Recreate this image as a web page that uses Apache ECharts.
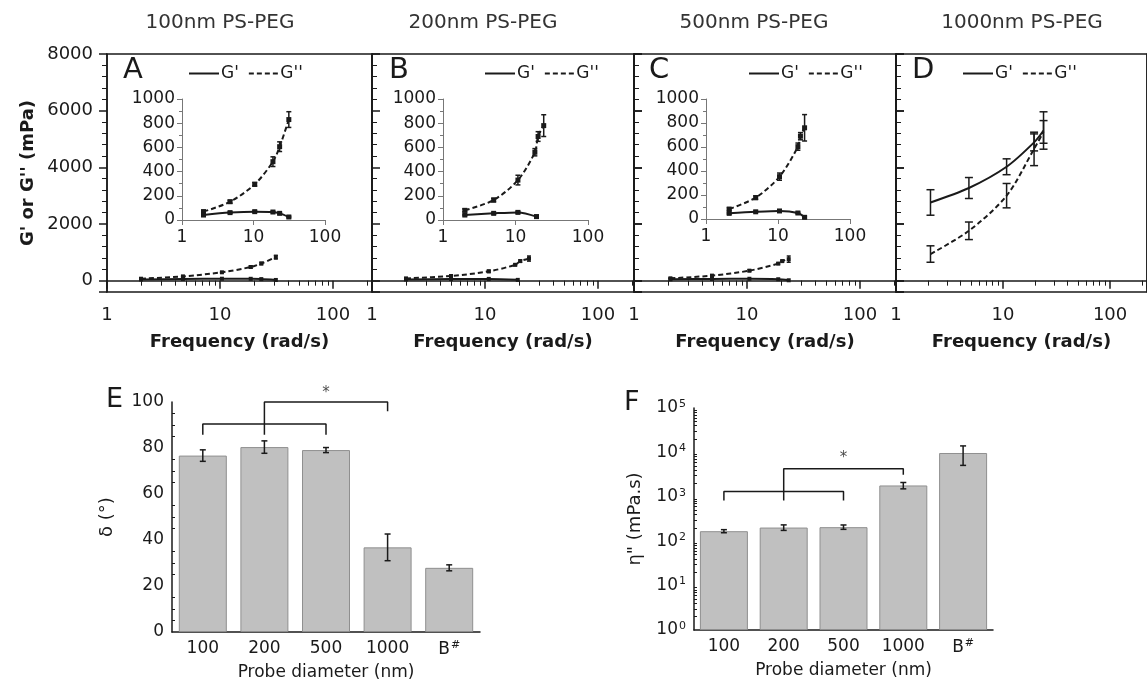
<!DOCTYPE html>
<html>
<head>
<meta charset="utf-8">
<script src="https://cdn.jsdelivr.net/npm/echarts@6/dist/echarts.min.js"></script>
<style>
  html, body { margin: 0; padding: 0; background: #fff; }
  #main { width: 1147px; height: 685px; }
</style>
</head>
<body>
<div id="main"></div>
<script>
// G' / G'' (mPa) against frequency (rad/s), one block per probe size
var freqA = [2, 4.7, 10.4, 18.7, 23.2, 31.2];
var gpA = [41, 61, 69, 66, 55, 25];
var gpErrA = [8, 6, 6, 6, 6, 6];
var gppA = [69, 151, 295, 482, 606, 830];
var gppErrA = [12, 12, 15, 40, 40, 65];

var freqGpB = [2, 5, 10.8, 19.5];
var gpB = [41, 55, 63, 28];
var gpErrB = [6, 6, 8, 12];
var freqGppB = [2, 5, 10.8, 18.5, 20.5, 24.5];
var gppB = [80, 165, 330, 560, 690, 780];
var gppErrB = [12, 15, 40, 30, 40, 90];

var freqGpC = [2.1, 4.9, 10.5, 18.9, 23.4];
var gpC = [47, 60, 67, 50, 14];
var gpErrC = [6, 5, 5, 6, 8];
var freqGppC = [2.1, 4.9, 10.5, 18.9, 20.5, 23.4];
var gppC = [83, 178, 353, 603, 690, 760];
var gppErrC = [10, 15, 30, 30, 30, 110];

var freqD = [2.1, 4.8, 10.8, 19.5, 23.9];
var gpD = [2760, 3270, 4020, 4880, 5300];
var gpErrD = [450, 370, 280, 300, 660];
var gppD = [940, 1760, 3000, 4650, 5250];
var gppErrD = [290, 310, 430, 590, 400];

// bar panels
var probeCats = ['100', '200', '500', '1000', 'B#'];
var deltaVals = [76.7, 80.4, 79.1, 36.8, 27.9];
var deltaErr = [2.5, 2.7, 1.1, 5.8, 1.3];
var etaVals = [168, 203, 207, 1800, 9700];
var etaLow = [155, 175, 185, 1510, 5100];
var etaHigh = [182, 233, 232, 2100, 14000];

// significance brackets [category index, value]
var bracketLowE = [[0, 85.8], [0, 90.4], [2, 90.4], [2, 85.8]];
var bracketHighE = [[1, 85.8], [1, 100], [3, 100], [3, 96]];
var starE = [[2, 104]];
var bracketLowF = [[0, 826], [0, 1320], [2, 1320], [2, 826]];
var bracketHighF = [[1, 826], [1, 4270], [3, 4270], [3, 3135]];
var starF = [[2, 7460]];

var FONT = 'DejaVu Sans';
var INK = '#1a1a1a';
var DECADE = 113;

var chart = echarts.init(document.getElementById('main'));

function plain(v) { return String(v); }

function errBars(xi, yi, xs, lows, highs, cap) {
  return {
    type: 'custom', xAxisIndex: xi, yAxisIndex: yi, silent: true, z: 4, clip: false,
    encode: { x: 0, y: [1, 2] },
    data: xs.map(function (x, i) { return [x, lows[i], highs[i]]; }),
    renderItem: function (params, api) {
      var lo = api.coord([api.value(0), api.value(1)]);
      var hi = api.coord([api.value(0), api.value(2)]);
      var st = { stroke: INK, lineWidth: 1.5 };
      return {
        type: 'group', children: [
          { type: 'line', shape: { x1: lo[0], y1: lo[1], x2: hi[0], y2: hi[1] }, style: st },
          { type: 'line', shape: { x1: lo[0] - cap, y1: lo[1], x2: lo[0] + cap, y2: lo[1] }, style: st },
          { type: 'line', shape: { x1: hi[0] - cap, y1: hi[1], x2: hi[0] + cap, y2: hi[1] }, style: st }
        ]
      };
    }
  };
}

function pmErr(xi, yi, xs, ys, es, cap) {
  return errBars(xi, yi, xs,
    ys.map(function (v, i) { return v - es[i]; }),
    ys.map(function (v, i) { return v + es[i]; }), cap);
}

function curve(name, xi, yi, xs, ys, dashed, sym) {
  return {
    name: name, type: 'line', xAxisIndex: xi, yAxisIndex: yi,
    data: xs.map(function (x, i) { return [x, ys[i]]; }),
    smooth: 0.3, symbol: sym ? 'rect' : 'none', symbolSize: sym || 0,
    color: INK, itemStyle: { color: INK },
    lineStyle: { color: INK, width: 2, type: dashed ? [5, 3] : 'solid' },
    silent: true, z: 3
  };
}

// ---------- grids ----------
var mainGrids = [
  { left: 107, width: 265 },
  { left: 372, width: 262 },
  { left: 634, width: 262 },
  { left: 896, width: 265 }
];
var grids = mainGrids.map(function (g) {
  return { left: g.left, width: g.width, top: 54, height: 238, show: true,
    borderColor: INK, borderWidth: 1.5 };
});
grids.push({ left: 182, top: 99, width: 143, height: 121 });
grids.push({ left: 443, top: 99, width: 145, height: 121 });
grids.push({ left: 706, top: 99, width: 144, height: 120 });
grids.push({ left: 172, top: 402, width: 308, height: 230 });
grids.push({ left: 694, top: 408, width: 299, height: 222 });

var numLabel = { fontFamily: FONT, fontSize: 17, color: INK };

function catFmt(v) { return v === 'B#' ? 'B{sup|#}' : v; }
function supRich() {
  return { sup: { fontFamily: FONT, fontSize: 11, color: INK, verticalAlign: 'top', padding: [0, 0, 8, 1] } };
}

var xAxes = [];
mainGrids.forEach(function (g, i) {
  xAxes.push({
    type: 'log', gridIndex: i, min: 1, max: Math.pow(10, g.width / DECADE),
    axisLine: { lineStyle: { color: INK, width: 1.5 } },
    axisTick: { inside: false, length: 8, lineStyle: { color: INK, width: 1.5 } },
    minorTick: { show: true, splitNumber: 9, length: 5, lineStyle: { color: INK } },
    splitLine: { show: false },
    axisLabel: { margin: 14, fontSize: 18, showMaxLabel: false, fontFamily: FONT, color: INK, formatter: plain },
    name: 'Frequency (rad/s)', nameLocation: 'middle', nameGap: 41,
    nameTextStyle: { fontFamily: FONT, fontWeight: 'bold', fontSize: 18, color: INK }
  });
});
[4, 5, 6].forEach(function (gi) {
  xAxes.push({
    type: 'log', gridIndex: gi, min: 1, max: 100,
    axisLine: { lineStyle: { color: '#777', width: 1 } },
    axisTick: { inside: false, length: 5, lineStyle: { color: '#777' } },
    splitLine: { show: false },
    axisLabel: Object.assign({ margin: 9, formatter: plain }, numLabel)
  });
});
[7, 8].forEach(function (gi) {
  xAxes.push({
    type: 'category', gridIndex: gi, data: probeCats,
    axisLine: { lineStyle: { color: INK, width: 1.5 } },
    axisTick: { inside: true, length: 5, lineStyle: { color: INK } },
    axisLabel: Object.assign({ margin: 8, interval: 0, formatter: catFmt, rich: supRich() }, numLabel),
    name: 'Probe diameter (nm)', nameLocation: 'middle', nameGap: 32,
    nameTextStyle: { fontFamily: FONT, fontSize: 17, color: INK }
  });
});

function mainY(gi, inside, withLabels) {
  var ax = {
    type: 'value', gridIndex: gi, min: -400, max: 8000, splitNumber: 4,
    axisLine: { show: true, lineStyle: { color: INK, width: 1.5 } },
    axisTick: { inside: inside, length: 8, lineStyle: { color: INK, width: 1.5 } },
    minorTick: { show: true, splitNumber: 5, length: 5, lineStyle: { color: INK } },
    splitLine: { show: false },
    axisLabel: { show: withLabels, showMinLabel: false, margin: 14, fontFamily: FONT, fontSize: 18,
      color: INK, formatter: plain }
  };
  if (withLabels) {
    ax.name = "G' or G'' (mPa)";
    ax.nameLocation = 'middle';
    ax.nameGap = 70;
    ax.nameTextStyle = { fontFamily: FONT, fontWeight: 'bold', fontSize: 18, color: INK };
  }
  return ax;
}

var yAxes = [
  mainY(0, false, true),              // 0 A
  mainY(1, true, false), mainY(1, false, false), // 1,2 B
  mainY(2, true, false), mainY(2, false, false), // 3,4 C
  mainY(3, true, false), mainY(3, false, false)  // 5,6 D
];
[4, 5, 6].forEach(function (gi) {
  yAxes.push({
    type: 'value', gridIndex: gi, min: 0, max: 1000, interval: 200,
    axisLine: { show: true, lineStyle: { color: '#777', width: 1 } },
    axisTick: { inside: false, length: 5, lineStyle: { color: '#777' } },
    minorTick: { show: true, splitNumber: 2, length: 3, lineStyle: { color: '#777' } },
    splitLine: { show: false },
    axisLabel: Object.assign({ margin: 7, formatter: plain }, numLabel)
  });
}); // 7,8,9
yAxes.push({
  type: 'value', gridIndex: 7, min: 0, max: 100, interval: 20,
  axisLine: { show: true, lineStyle: { color: INK, width: 1.5 } },
  axisTick: { inside: true, length: 6, lineStyle: { color: INK } },
  minorTick: { show: true, splitNumber: 4, length: 3, lineStyle: { color: INK } },
  splitLine: { show: false },
  axisLabel: Object.assign({ margin: 8 }, numLabel),
  name: 'δ (°)', nameLocation: 'middle', nameGap: 56,
  nameTextStyle: { fontFamily: FONT, fontSize: 18, color: INK }
}); // 10
yAxes.push({
  type: 'log', gridIndex: 8, min: 1, max: 100000, logBase: 10,
  axisLine: { show: true, lineStyle: { color: INK, width: 1.5 } },
  axisTick: { inside: true, length: 6, lineStyle: { color: INK } },
  minorTick: { show: true, splitNumber: 9, length: 3, lineStyle: { color: INK } },
  splitLine: { show: false },
  axisLabel: Object.assign({
    margin: 8,
    formatter: function (v) { return '10{sup|' + Math.round(Math.log10(v)) + '}'; },
    rich: supRich()
  }, numLabel),
  name: 'η" (mPa.s)', nameLocation: 'middle', nameGap: 50,
  nameTextStyle: { fontFamily: FONT, fontSize: 18, color: INK }
}); // 11

// ---------- series ----------
var series = [];
// main panels (0-8000 scale) and their insets (0-1000)
var blocks = [
  { xi: 0, yi: 0, ix: 4, iy: 7, fgp: freqA, gp: gpA, egp: gpErrA, fgpp: freqA, gpp: gppA, egpp: gppErrA },
  { xi: 1, yi: 1, ix: 5, iy: 8, fgp: freqGpB, gp: gpB, egp: gpErrB, fgpp: freqGppB, gpp: gppB, egpp: gppErrB },
  { xi: 2, yi: 3, ix: 6, iy: 9, fgp: freqGpC, gp: gpC, egp: gpErrC, fgpp: freqGppC, gpp: gppC, egpp: gppErrC }
];
blocks.forEach(function (b) {
  series.push(curve("G'", b.xi, b.yi, b.fgp, b.gp, false, 4));
  series.push(curve("G''", b.xi, b.yi, b.fgpp, b.gpp, true, 4));
  series.push(pmErr(b.xi, b.yi, b.fgpp, b.gpp, b.egpp, 2));
  series.push(curve("G'", b.ix, b.iy, b.fgp, b.gp, false, 5));
  series.push(curve("G''", b.ix, b.iy, b.fgpp, b.gpp, true, 5));
  series.push(pmErr(b.ix, b.iy, b.fgp, b.gp, b.egp, 2.5));
  series.push(pmErr(b.ix, b.iy, b.fgpp, b.gpp, b.egpp, 2.5));
});
series.push(curve("G'", 3, 5, freqD, gpD, false, 0));
series.push(curve("G''", 3, 5, freqD, gppD, true, 0));
series.push(pmErr(3, 5, freqD, gpD, gpErrD, 4));
series.push(pmErr(3, 5, freqD, gppD, gppErrD, 4));

function barSeries(xi, yi, vals) {
  return {
    type: 'bar', xAxisIndex: xi, yAxisIndex: yi, data: vals, barWidth: 48, silent: true,
    itemStyle: { color: '#c0c0c0', borderColor: '#8f8f8f', borderWidth: 1 }
  };
}
function bracket(xi, yi, pts) {
  return {
    type: 'line', xAxisIndex: xi, yAxisIndex: yi, data: pts, symbol: 'none', clip: false,
    silent: true, z: 6, lineStyle: { color: INK, width: 1.5 }
  };
}
function star(xi, yi, pts) {
  return {
    type: 'scatter', xAxisIndex: xi, yAxisIndex: yi, data: pts, clip: false, silent: true,
    symbolSize: 1, itemStyle: { color: 'rgba(0,0,0,0)' },
    label: { show: true, formatter: '*', position: 'inside', fontFamily: FONT, fontSize: 15, color: INK }
  };
}
series.push(barSeries(7, 10, deltaVals));
series.push(pmErr(7, 10, [0, 1, 2, 3, 4], deltaVals, deltaErr, 3));
series.push(bracket(7, 10, bracketLowE));
series.push(bracket(7, 10, bracketHighE));
series.push(star(7, 10, starE));
series.push(barSeries(8, 11, etaVals));
series.push(errBars(8, 11, [0, 1, 2, 3, 4], etaLow, etaHigh, 3));
series.push(bracket(8, 11, bracketLowF));
series.push(bracket(8, 11, bracketHighF));
series.push(star(8, 11, starF));

// ---------- legends (one per frequency panel) ----------
var solidIcon = 'path://M0,0H30V2H0Z';
var dashIcon = 'path://M0,0H5V2H0Z M8,0H13V2H8Z M16,0H21V2H16Z M24,0H29V2H24Z';
var legendLefts = [184, 480, 744, 958];
var legends = legendLefts.map(function (l) {
  return {
    left: l, top: 60, orient: 'horizontal', selectedMode: false,
    itemWidth: 30, itemHeight: 2, itemGap: 10,
    textStyle: { fontFamily: FONT, fontSize: 17, color: INK, padding: [0, 0, 0, -3] },
    data: [{ name: "G'", icon: solidIcon }, { name: "G''", icon: dashIcon }]
  };
});

// ---------- free text ----------
function txt(t, x, y, size, extra) {
  return {
    type: 'text', x: x, y: y, silent: true,
    style: Object.assign({ text: t, fontFamily: FONT, fontSize: size, fill: INK,
      align: 'left', verticalAlign: 'middle' }, extra || {})
  };
}
var graphics = [
  txt('100nm PS-PEG', 220, 23, 20, { align: 'center', fill: '#333' }),
  txt('200nm PS-PEG', 483, 23, 20, { align: 'center', fill: '#333' }),
  txt('500nm PS-PEG', 754, 23, 20, { align: 'center', fill: '#333' }),
  txt('1000nm PS-PEG', 1022, 23, 20, { align: 'center', fill: '#333' }),
  txt('A', 123, 70, 29), txt('B', 389, 70, 29), txt('C', 649, 70, 29), txt('D', 912, 70, 29),
  txt('E', 106, 400, 27), txt('F', 624, 403, 27)
];

var option = {
  animation: false,
  backgroundColor: '#fff',
  textStyle: { fontFamily: FONT },
  grid: grids,
  xAxis: xAxes,
  yAxis: yAxes,
  legend: legends,
  graphic: graphics,
  series: series
};

if (option && typeof option === 'object') {
  chart.setOption(option);
}
</script>
</body>
</html>
